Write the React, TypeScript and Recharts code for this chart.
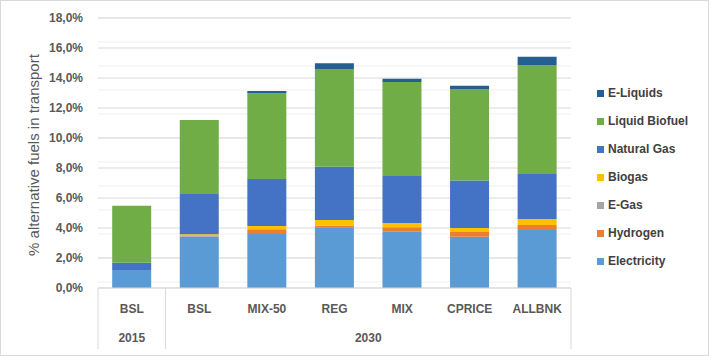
import React from "react";
import { Bar, BarChart, CartesianGrid, XAxis, YAxis } from "recharts";

document.body.style.margin = "0";

const categories = ["BSL", "BSL", "MIX-50", "REG", "MIX", "CPRICE", "ALLBNK"];
const years = ["2015", "2030", "2030", "2030", "2030", "2030", "2030"];

const electricity = [1.2, 3.42, 3.6, 4.05, 3.75, 3.42, 3.87];
const hydrogen = [0, 0, 0.31, 0.1, 0.3, 0.31, 0.33];
const eGas = [0, 0.05, 0, 0, 0, 0, 0];
const biogas = [0, 0.11, 0.22, 0.38, 0.28, 0.27, 0.4];
const naturalGas = [0.49, 2.69, 3.14, 3.56, 3.14, 3.16, 3.0];
const liquidBiofuel = [3.8, 4.93, 5.71, 6.51, 6.26, 6.11, 7.27];
const eLiquids = [0, 0, 0.15, 0.38, 0.22, 0.22, 0.55];

const yTicks = [0, 2, 4, 6, 8, 10, 12, 14, 16, 18];
const minorTicks = Array.from({ length: 46 }, (_, i) => Math.round(i * 4) / 10);

// bottom to top stacking order
const series = [
  { key: "electricity", name: "Electricity", color: "#5B9BD5", values: electricity },
  { key: "hydrogen", name: "Hydrogen", color: "#ED7D31", values: hydrogen },
  { key: "eGas", name: "E-Gas", color: "#A5A5A5", values: eGas },
  { key: "biogas", name: "Biogas", color: "#FFC000", values: biogas },
  { key: "naturalGas", name: "Natural Gas", color: "#4472C4", values: naturalGas },
  { key: "liquidBiofuel", name: "Liquid Biofuel", color: "#70AD47", values: liquidBiofuel },
  { key: "eLiquids", name: "E-Liquids", color: "#255E91", values: eLiquids },
];

const data = categories.map((name, i) => {
  const row: Record<string, string | number> = { name, year: years[i] };
  series.forEach((s) => (row[s.key] = s.values[i]));
  return row;
});

const W = 709;
const H = 356;
const MARGIN = { top: 18, right: 138, left: 0, bottom: 0 };
const Y_W = 98;
const X_H = 68;
const BAND = (W - MARGIN.left - MARGIN.right - Y_W) / categories.length;
const FONT = "'Liberation Sans', Arial, sans-serif";
const GRID = "#d9d9d9";

const fmtPct = (v: number) => `${v.toFixed(1).replace(".", ",")}%`;

function MultiTick(props: any) {
  const { x, y, payload } = props;
  const i = payload.index;
  const year = years[i];
  const first = i === 0 || years[i - 1] !== year;
  let groupLen = 0;
  for (let j = i; j < years.length && years[j] === year; j++) groupLen++;
  const bottom = y + 61;
  return (
    <g>
      <text x={x} y={y + 25} textAnchor="middle" fill="#595959" fontSize={12}
        fontWeight="bold" fontFamily={FONT}>{payload.value}</text>
      {first && (
        <>
          <line x1={x - BAND / 2} x2={x - BAND / 2} y1={y} y2={bottom} stroke={GRID} />
          <text x={x + ((groupLen - 1) * BAND) / 2} y={y + 54} textAnchor="middle" fill="#595959"
            fontSize={12} fontWeight="bold" fontFamily={FONT}>{year}</text>
        </>
      )}
      {i === categories.length - 1 && (
        <line x1={x + BAND / 2} x2={x + BAND / 2} y1={y} y2={bottom} stroke={GRID} />
      )}
    </g>
  );
}

function YTitle() {
  const cx = 33;
  const cy = 155;
  return (
    <text x={cx} y={cy} transform={`rotate(-90, ${cx}, ${cy})`} textAnchor="middle"
      dominantBaseline="central" fill="#595959" fontSize={15} fontFamily={FONT}>
      % alternative fuels in transport
    </text>
  );
}

export default function App() {
  const legendItems = [...series].reverse();
  return (
    <div style={{ position: "relative", width: W, height: H, background: "#fff" }}>
      <BarChart width={W} height={H} data={data} margin={MARGIN} barCategoryGap="21%">
        <CartesianGrid vertical={false} horizontalValues={minorTicks} stroke="#f0f0f0" />
        <CartesianGrid vertical={false} horizontalValues={yTicks} stroke={GRID} />
        <XAxis dataKey="name" height={X_H} interval={0} tickLine={false} tickSize={0} tickMargin={0}
          axisLine={{ stroke: GRID }} tick={<MultiTick />} />
        <YAxis width={Y_W} domain={[0, 18]} ticks={yTicks} tickFormatter={fmtPct} axisLine={false}
          tickLine={false} tickSize={0} tickMargin={15}
          tick={{ fill: "#595959", fontSize: 12, fontWeight: "bold", fontFamily: FONT }}
          label={<YTitle />} />
        {series.map((s) => (
          <Bar key={s.key} dataKey={s.key} name={s.name} stackId="a" fill={s.color}
            isAnimationActive={false} />
        ))}
      </BarChart>
      <div style={{ position: "absolute", left: 597, top: 79, fontFamily: FONT }}>
        {legendItems.map((s) => (
          <div key={s.key} style={{ display: "flex", alignItems: "center", height: 28 }}>
            <span style={{ width: 7, height: 7, background: s.color, marginRight: 4 }} />
            <span style={{ fontSize: 12, fontWeight: "bold", color: "#404040" }}>{s.name}</span>
          </div>
        ))}
      </div>
      <div style={{ position: "absolute", inset: 0, border: "1px solid #d9d9d9", pointerEvents: "none" }} />
    </div>
  );
}
